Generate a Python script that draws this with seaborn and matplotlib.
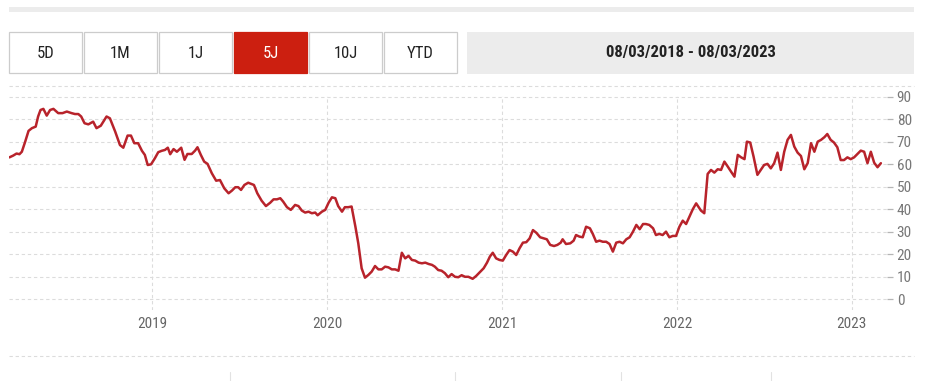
import numpy as np
import pandas as pd
import matplotlib
matplotlib.use("Agg")
import matplotlib.pyplot as plt
from matplotlib import font_manager
from matplotlib.patches import Rectangle
import seaborn as sns

# --- data (days since start date, closing price) ---
start_date = "2018-03-08"

day_offset = [
    0, 8, 15, 21, 26, 33, 40, 47, 55, 60,
    65, 71, 78, 85, 92, 102, 111, 120, 130, 137,
    144, 150, 157, 165, 175, 182, 191, 203, 210, 221,
    231, 238, 247, 254, 261, 269, 277, 283, 289, 296,
    304, 311, 318, 325, 331, 336, 343, 350, 359, 366,
    372, 381, 388, 393, 400, 407, 414, 423, 432, 440,
    449, 458, 465, 472, 478, 484, 491, 499, 506, 511,
    518, 527, 536, 545, 552, 559, 566, 572, 580, 588,
    597, 604, 611, 618, 625, 632, 639, 644, 653, 660,
    667, 674, 681, 687, 695, 701, 708, 715,
    723, 729, 736, 743, 750, 757, 764, 771, 778, 785,
    792, 799, 806, 813, 820, 827, 834, 841, 848, 855,
    862, 869, 876, 883, 889, 896, 903, 910, 917, 924,
    931, 938, 945, 952, 959, 968, 975, 984, 991, 998,
    1004, 1010, 1017, 1024, 1031, 1038, 1045, 1052, 1059, 1066,
    1073, 1080, 1087,
    1094, 1101, 1109, 1117, 1123, 1130, 1138, 1145, 1152, 1156,
    1163, 1172, 1179, 1184, 1191, 1198, 1205, 1213, 1219, 1226,
    1233, 1240, 1247, 1254, 1261, 1268, 1275, 1282, 1289, 1296,
    1303, 1310, 1317, 1324, 1330, 1337, 1345, 1351, 1358, 1365,
    1372, 1379, 1386, 1393, 1400, 1407, 1414, 1421, 1428, 1435,
    1445, 1452,
    1459, 1466, 1473, 1480, 1487, 1494, 1501, 1508, 1515, 1522,
    1529, 1536, 1541, 1548, 1555, 1563, 1570, 1577, 1584, 1591,
    1598, 1605, 1612, 1619, 1626, 1633, 1640, 1647, 1654, 1661,
    1668, 1675, 1682, 1689, 1696, 1703, 1709, 1716, 1723, 1730,
    1737, 1744, 1751, 1758, 1765, 1772, 1779, 1786, 1793, 1800,
    1807, 1814, 1821,
]

price = [
    63.1, 63.9, 64.8, 64.5, 65.6, 70.1, 74.9, 76.1, 76.8, 81.3,
    84.2, 84.7, 81.7, 84.2, 84.7, 82.8, 82.8, 83.5, 82.8, 82.4,
    82.4, 81.3, 78.3, 77.8, 79.0, 76.1, 77.2, 81.3, 80.5, 74.6,
    68.6, 67.4, 72.8, 72.8, 69.4, 69.4, 66.0, 64.2, 59.7, 60.0,
    62.7, 65.4, 66.0, 66.4, 67.4, 64.5, 66.8, 65.6, 67.4, 62.0,
    64.6, 64.6, 66.1, 67.6, 64.2, 61.2, 60.2, 56.0, 52.7, 53.0,
    49.3, 47.1, 48.3, 49.8, 49.8, 48.6, 50.8, 51.8, 51.2, 50.8,
    47.1, 43.8, 41.4, 42.9, 44.4, 44.4, 44.9, 43.4, 40.9, 39.7,
    41.9, 41.4, 39.4, 38.5, 38.9, 38.2, 38.5, 37.3, 38.9, 39.7,
    42.9, 45.3, 44.9, 41.4, 38.9, 40.9, 40.9, 41.2,
    32.2, 24.8, 13.7, 9.5, 10.7, 12.2, 14.7, 13.2, 13.2, 14.4,
    14.1, 13.2, 13.2, 12.6, 20.6, 18.1, 19.2, 17.4, 17.1, 16.2,
    15.9, 16.2, 15.6, 15.2, 14.4, 12.9, 12.6, 11.5, 9.7, 11.1,
    9.9, 9.7, 10.6, 9.9, 9.9, 9.0, 10.2, 12.2, 13.7, 16.2,
    18.9, 20.6, 18.1, 17.4, 17.1, 19.6, 21.8, 21.1, 19.6, 22.6,
    25.1, 25.3, 27.0,
    30.7, 29.5, 27.5, 27.0, 26.6, 24.1, 23.6, 24.1, 25.1, 26.6,
    24.5, 24.8, 26.0, 28.5, 27.8, 27.5, 32.2, 31.5, 29.0, 25.5,
    26.0, 25.5, 25.5, 24.5, 21.1, 25.1, 25.5, 24.8, 26.6, 27.5,
    30.0, 33.0, 31.1, 33.4, 33.4, 33.0, 31.5, 28.5, 29.0, 28.5,
    30.0, 27.5, 28.1, 28.1, 32.2, 34.9, 33.4, 36.7, 40.0, 42.6,
    39.4, 38.2,
    55.7, 57.5, 56.3, 57.8, 57.5, 61.2, 59.0, 56.7, 54.5, 64.2,
    63.1, 62.3, 70.1, 69.7, 63.4, 55.3, 57.5, 59.7, 60.2, 58.2,
    60.5, 65.2, 57.5, 65.6, 70.9, 73.1, 67.9, 65.2, 63.7, 57.8,
    60.5, 69.4, 65.6, 70.1, 70.9, 72.1, 73.5, 70.9, 69.7, 67.6,
    61.9, 61.9, 63.1, 62.3, 63.1, 64.6, 66.1, 65.6, 60.5, 65.6,
    60.7, 58.7, 60.5,
]

year_ticks = ["2019-01-01", "2020-01-01", "2021-01-01", "2022-01-01", "2023-01-01"]
year_labels = ["2019", "2020", "2021", "2022", "2023"]
y_ticks = [0, 10, 20, 30, 40, 50, 60, 70, 80, 90]

periods = ["5D", "1M", "1J", "5J", "10J", "YTD"]
active_period = "5J"
range_label = "08/03/2018 - 08/03/2023"

assert len(day_offset) == len(price)

LINE_RED = "#b8232b"
BUTTON_RED = "#cc1f10"
GRID = "#dcdcdc"


def pick_font(candidates):
    names = {f.name for f in font_manager.fontManager.ttflist}
    for name in candidates:
        if name in names:
            return name
    return "DejaVu Sans"


sns.set_style("white")
narrow = pick_font(["Liberation Sans Narrow", "Roboto Condensed", "Roboto"])
plt.rcParams["font.family"] = [narrow, "DejaVu Sans"]

df = pd.DataFrame({
    "date": pd.to_datetime(start_date) + pd.to_timedelta(day_offset, unit="D"),
    "price": price,
})

W, H = 938, 381
fig = plt.figure(figsize=(W / 100, H / 100), dpi=100)

# plot area in pixels: x 9.4 -> 887, y 96.3 -> 310
px_left, px_right, px_top, px_bottom = 9.4, 887.0, 96.3, 310.0
ax = fig.add_axes([px_left / W, 1 - px_bottom / H,
                   (px_right - px_left) / W, (px_bottom - px_top) / H])

sns.lineplot(data=df, x="date", y="price", color=LINE_RED, linewidth=1.8, ax=ax)

t0 = pd.to_datetime(start_date)
days_per_px = 365.25 / 174.8
ax.set_xlim(t0, t0 + pd.Timedelta(days=(px_right - px_left) * days_per_px))
ax.set_ylim(-4.9, 90.3)

ax.set_xticks(pd.to_datetime(year_ticks))
ax.set_xticklabels(year_labels)
ax.set_yticks(y_ticks)
ax.yaxis.tick_right()
ax.set_xlabel("")
ax.set_ylabel("")

ax.grid(True, color=GRID, linestyle=(0, (3, 2.5)), linewidth=0.8)
for side in ax.spines.values():
    side.set_visible(False)

ax.tick_params(axis="x", length=0, pad=5, labelsize=11, labelcolor="#666666")
ax.tick_params(axis="y", length=4, width=0.9, color="#b5b5b5", pad=3,
               labelsize=11, labelcolor="#777777")

# page furniture: buttons, date range box, separators
ov = fig.add_axes([0, 0, 1, 1], zorder=-1)
ov.set_xlim(0, W)
ov.set_ylim(H, 0)
ov.axis("off")

ov.add_patch(Rectangle((9, 7), 905, 4.5, facecolor="#ececec", edgecolor="none"))

for i, label in enumerate(periods):
    x0 = 9.3 + i * 75.0
    active = label == active_period
    ov.add_patch(Rectangle((x0, 32.3), 72.3, 41, linewidth=0.9,
                           facecolor=BUTTON_RED if active else "white",
                           edgecolor=BUTTON_RED if active else "#cccccc"))
    ov.text(x0 + 36.2, 53, label, ha="center", va="center", fontsize=12,
            color="white" if active else "#222222")

ov.add_patch(Rectangle((467, 32.3), 447, 41.5, facecolor="#ececec", edgecolor="none"))
ov.text(690.5, 53, range_label, ha="center", va="center", fontsize=12,
        fontweight="bold", color="#222222")

ov.plot([9, 914], [86, 86], color=GRID, linestyle=(0, (3, 2.5)), linewidth=0.8)
ov.plot([9, 914], [356, 356], color=GRID, linestyle=(0, (3, 2.5)), linewidth=0.8)
for xm in [230, 455, 621, 771]:
    ov.plot([xm, xm], [372, 381], color="#e2e2e2", linewidth=0.8)

fig.savefig("out.png", dpi=100)
